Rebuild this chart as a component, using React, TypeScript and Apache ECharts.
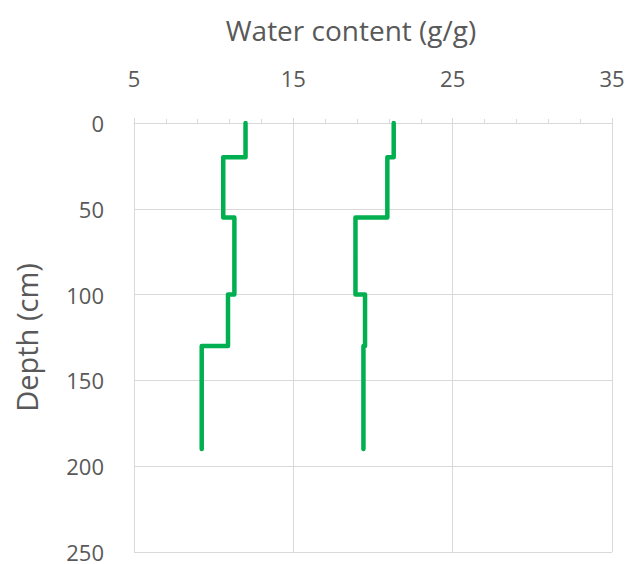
import React, { useEffect, useRef } from "react";
import * as echarts from "echarts";

// Layer boundaries (depth, cm)
const layerTops = [0, 20, 55, 100, 130];
const bottomDepth = 190;
// Water content (g/g) per layer
const profileA = [12.0, 10.6, 11.3, 10.9, 9.25];
const profileB = [21.3, 20.9, 18.9, 19.5, 19.4];
const xTicks = [5, 15, 25, 35];
const yTicks = [0, 50, 100, 150, 200, 250];
const xTitle = "Water content (g/g)";
const yTitle = "Depth (cm)";

function stepPoints(values: number[]): number[][] {
  const pts: number[][] = [];
  values.forEach((v, i) => {
    const top = layerTops[i];
    const bot = i + 1 < layerTops.length ? layerTops[i + 1] : bottomDepth;
    pts.push([v, top]);
    pts.push([v, bot]);
  });
  return pts;
}

const FONT = "'Open Sans', 'Noto Sans', sans-serif";
const TXT = "#595959";
const GRID = "#d9d9d9";

export default function App() {
  const ref = useRef<HTMLDivElement>(null);
  useEffect(() => {
    if (!ref.current) return;
    const chart = echarts.init(ref.current, undefined, { renderer: "svg" });
    chart.setOption({
      animation: false,
      textStyle: { fontFamily: FONT },
      grid: { left: 134, right: 19, top: 123, bottom: 12, containLabel: false },
      graphic: [
        {
          type: "text",
          x: 351,
          y: 30,
          style: {
            text: xTitle,
            fill: TXT,
            fontSize: 28,
            fontFamily: FONT,
            align: "center",
            verticalAlign: "middle",
          },
        },
      ],
      xAxis: {
        type: "value",
        position: "top",
        min: xTicks[0],
        max: xTicks[xTicks.length - 1],
        interval: 10,
        axisLine: { show: true, lineStyle: { color: GRID, width: 1 } },
        axisTick: { show: true, length: 5, lineStyle: { color: GRID } },
        minorTick: { show: true, splitNumber: 5, length: 4, lineStyle: { color: GRID } },
        splitLine: { show: true, lineStyle: { color: GRID, width: 1 } },
        axisLabel: { color: TXT, fontSize: 22, margin: 34, fontFamily: FONT },
      },
      yAxis: {
        type: "value",
        inverse: true,
        min: yTicks[0],
        max: yTicks[yTicks.length - 1],
        interval: 50,
        name: yTitle,
        nameLocation: "middle",
        nameGap: 93,
        nameTextStyle: { color: TXT, fontSize: 29, fontFamily: FONT },
        axisLine: { show: true, lineStyle: { color: GRID, width: 1 } },
        axisTick: { show: false },
        splitLine: { show: true, lineStyle: { color: GRID, width: 1 } },
        axisLabel: { color: TXT, fontSize: 22, margin: 30, fontFamily: FONT },
      },
      series: [
        {
          type: "line",
          data: stepPoints(profileA),
          showSymbol: false,
          symbol: "none",
          lineStyle: { color: "#00b050", width: 4.5, join: "round", cap: "round" },
        },
        {
          type: "line",
          data: stepPoints(profileB),
          showSymbol: false,
          symbol: "none",
          lineStyle: { color: "#00b050", width: 4.5, join: "round", cap: "round" },
        },
      ],
    });
    return () => chart.dispose();
  }, []);
  return <div ref={ref} style={{ width: 631, height: 564, position: "absolute", left: 0, top: 0 }} />;
}
